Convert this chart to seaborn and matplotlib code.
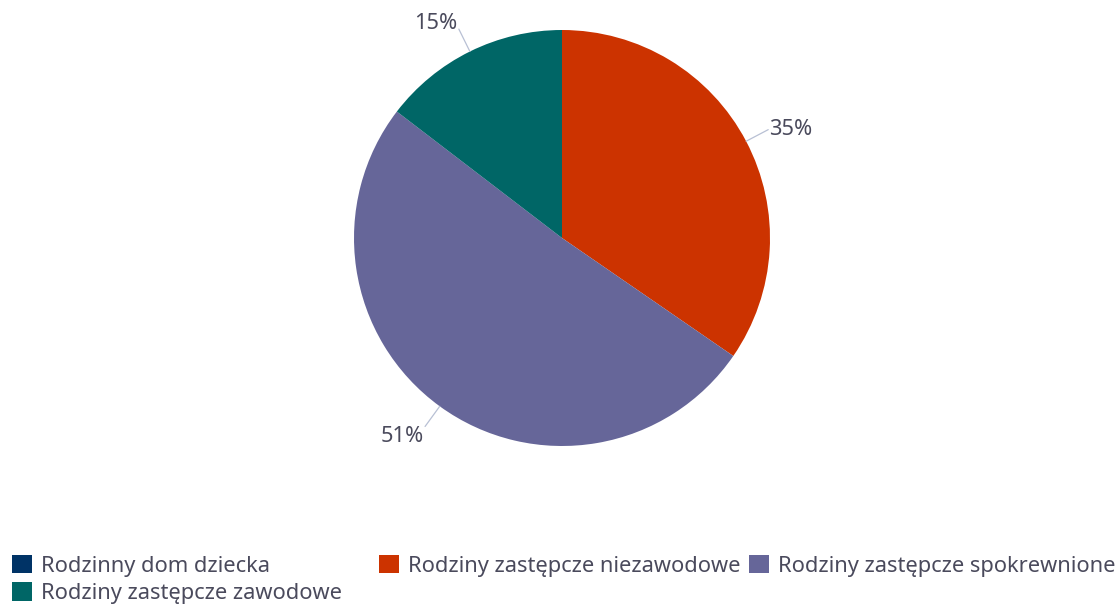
import numpy as np
import matplotlib
matplotlib.use('Agg')
import matplotlib.pyplot as plt
import seaborn as sns
from matplotlib.patches import Patch

# ── data ──────────────────────────────────────────────────────────
categories = ['Rodzinny dom dziecka',
              'Rodziny zastępcze niezawodowe',
              'Rodziny zastępcze spokrewnione',
              'Rodziny zastępcze zawodowe']
shares = [0.0, 34.6, 50.8, 14.6]
share_labels = ['', '35%', '51%', '15%']
colors = ['#003366', '#cc3300', '#666699', '#006666']

sns.set_theme(style='white')
plt.rcParams['font.family'] = ['Noto Sans', 'DejaVu Sans']
TEXT = '#4a4a5c'
LINE = '#b8c0d4'

W, H = 1116, 607
fig = plt.figure(figsize=(W / 100, H / 100), dpi=100)

# pie centre / radius in pixels
cx, cy, R = 562, 238, 208
ax = fig.add_axes([(cx - R) / W, (H - cy - R) / H, 2 * R / W, 2 * R / H])
wedges, _ = ax.pie(shares, colors=colors, startangle=90, counterclock=False,
                   radius=1, wedgeprops=dict(linewidth=0))
ax.set_xlim(-1, 1)
ax.set_ylim(-1, 1)
ax.axis('off')

# ── labels with connectors ────────────────────────────────────────
for w, lab in zip(wedges, share_labels):
    if not lab:
        continue
    ang = np.deg2rad((w.theta1 + w.theta2) / 2)
    c, s = np.cos(ang), np.sin(ang)
    ax.plot([c * 1.0, c * 1.12], [s * 1.0, s * 1.12], color=LINE, lw=0.9,
            clip_on=False)
    ha = 'left' if c > 0 else 'right'
    if s > 0.7:
        va, dy = 'bottom', -0.025
    elif s < -0.7:
        va, dy = 'top', 0.0
    else:
        va, dy = 'center', 0.0
    ax.text(c * 1.12 + (0.005 if c > 0 else -0.005), s * 1.12 + dy,
            lab, ha=ha, va=va, fontsize=15.7, color=TEXT)

# ── legend (flowing layout) ───────────────────────────────────────
handles = [Patch(facecolor=col, edgecolor='none') for col in colors]
leg_kw = dict(loc='upper left', frameon=False, fontsize=15.7, borderpad=0,
              borderaxespad=0, handlelength=0.92, handleheight=0.92,
              handletextpad=0.4, labelspacing=0.25, labelcolor=TEXT)
top = 1 - 555 / H
fig.legend([handles[0], handles[3]], [categories[0], categories[3]],
           bbox_to_anchor=(12 / W, top), **leg_kw)
fig.legend([handles[1]], [categories[1]],
           bbox_to_anchor=(379 / W, top), **leg_kw)
fig.legend([handles[2]], [categories[2]],
           bbox_to_anchor=(749 / W, top), **leg_kw)

fig.savefig('out.png', dpi=100)
